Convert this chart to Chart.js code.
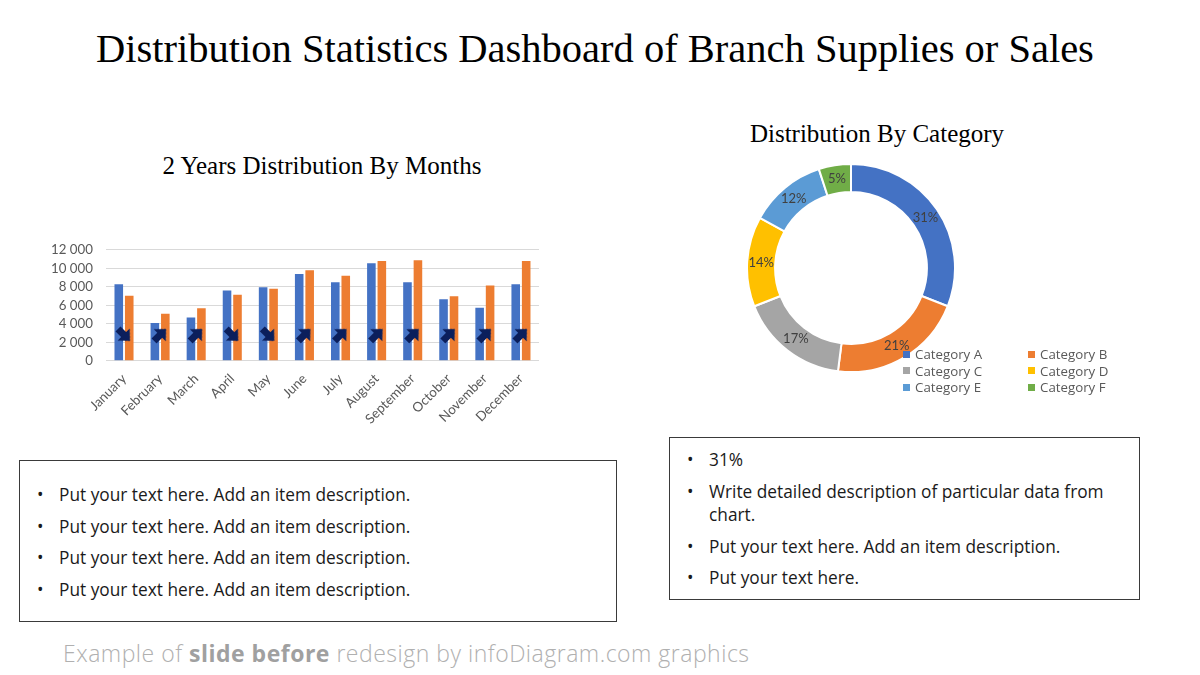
<!DOCTYPE html>
<html>
<head>
<meta charset="utf-8">
<script src="https://cdn.jsdelivr.net/npm/chart.js@4/dist/chart.umd.min.js"></script>
<style>
  html, body { margin: 0; padding: 0; background: #fff; }
  body { width: 1200px; height: 675px; position: relative; overflow: hidden; font-family: "Open Sans", sans-serif; }
  .title { position: absolute; left: 0; width: 1190px; top: 25px; text-align: center; font-family: "Liberation Serif", serif; font-size: 40.5px; color: #000; }
  .sub { position: absolute; font-family: "Liberation Serif", serif; font-size: 25px; color: #000; text-align: center; white-space: nowrap; }
  .box { position: absolute; border: 1px solid #3a3a3a; box-sizing: border-box; color: #1a1a1a; font-size: 17.3px; }
  .box ul { margin: 0; padding: 0; list-style: none; }
  .box li { position: relative; padding-left: 39px; line-height: 23px; }
  .box li::before { content: "•"; position: absolute; left: 17px; }
  .legend { position: absolute; left: 903px; top: 346px; display: grid; grid-template-columns: 125px 90px; row-gap: 0; font-size: 13.3px; color: #595959; font-family: "Open Sans", sans-serif; }
  .legend span { display: flex; align-items: center; height: 16.5px; white-space: nowrap; }
  .legend i { display: inline-block; width: 7px; height: 7px; margin-right: 5px; }
  .footer { position: absolute; left: 63px; top: 637px; font-size: 23px; letter-spacing: 0.5px; color: #b0b0b0; font-weight: 300; white-space: nowrap; }
  .footer b { font-weight: 700; color: #a0a0a0; }
</style>
</head>
<body>
<div class="title">Distribution Statistics Dashboard of Branch Supplies or Sales</div>
<div class="sub" style="left:122px; width:400px; top:152px;">2 Years Distribution By Months</div>
<div class="sub" style="left:677px; width:400px; top:120px;">Distribution By Category</div>

<div style="position:absolute; left:38px; top:229px; width:507px; height:200px;"><canvas id="barChart"></canvas></div>
<div style="position:absolute; left:746px; top:163px; width:210px; height:210px;"><canvas id="donutChart"></canvas></div>
<div class="legend" id="legend"></div>

<div class="box" style="left:19px; top:460px; width:598px; height:162px; padding-top:22px;">
  <ul>
    <li style="margin-bottom:8.5px">Put your text here. Add an item description.</li>
    <li style="margin-bottom:8.5px">Put your text here. Add an item description.</li>
    <li style="margin-bottom:8.5px">Put your text here. Add an item description.</li>
    <li>Put your text here. Add an item description.</li>
  </ul>
</div>
<div class="box" style="left:669px; top:437px; width:471px; height:163px; padding-top:10px; padding-right:20px;">
  <ul>
    <li style="margin-bottom:9px">31%</li>
    <li style="margin-bottom:9px">Write detailed description of particular data from chart.</li>
    <li style="margin-bottom:8px">Put your text here. Add an item description.</li>
    <li>Put your text here.</li>
  </ul>
</div>
<div class="footer">Example of <b>slide before</b> redesign by infoDiagram.com graphics</div>

<script>
const months = ['January', 'February', 'March', 'April', 'May', 'June', 'July', 'August', 'September', 'October', 'November', 'December'];
const yearOne = [8300, 4100, 4700, 7600, 7950, 9400, 8500, 10550, 8500, 6650, 5750, 8300];
const yearTwo = [7050, 5100, 5700, 7150, 7800, 9800, 9200, 10800, 10900, 7000, 8150, 10800];
const trendLevel = [2800, 2800, 2800, 2800, 2800, 2800, 2800, 2800, 2800, 2800, 2800, 2800];
const yTicks = [0, 2000, 4000, 6000, 8000, 10000, 12000];

const categories = ['Category A', 'Category B', 'Category C', 'Category D', 'Category E', 'Category F'];
const shares = [31, 21, 17, 14, 12, 5];
const categoryColors = ['#4472C4', '#ED7D31', '#A5A5A5', '#FFC000', '#5B9BD5', '#70AD47'];

const axisGrey = '#595959';
const labelFont = { family: 'Lato, "Open Sans", sans-serif', size: 13.3 };

// arrow icon used as point style, pointing right, rotated per month
function makeArrow() {
  const c = document.createElement('canvas');
  c.width = 19; c.height = 19;
  const g = c.getContext('2d');
  g.fillStyle = '#0b1f5c';
  g.beginPath();
  g.moveTo(1, 6); g.lineTo(9, 6); g.lineTo(9, 1); g.lineTo(18, 9.5);
  g.lineTo(9, 18); g.lineTo(9, 13); g.lineTo(1, 13);
  g.closePath();
  g.fill();
  return c;
}
const arrowIcon = makeArrow();

new Chart(document.getElementById('barChart'), {
  type: 'bar',
  data: {
    labels: months,
    datasets: [
      {
        type: 'line',
        data: trendLevel,
        showLine: false,
        pointStyle: arrowIcon,
        rotation: (ctx) => yearTwo[ctx.dataIndex] >= yearOne[ctx.dataIndex] ? -45 : 45,
        order: 0
      },
      { data: yearOne, backgroundColor: '#4472C4', barPercentage: 0.82, categoryPercentage: 0.58, order: 1 },
      { data: yearTwo, backgroundColor: '#ED7D31', barPercentage: 0.82, categoryPercentage: 0.58, order: 1 }
    ]
  },
  options: {
    responsive: true,
    maintainAspectRatio: false,
    animation: false,
    layout: { padding: { left: 0, right: 6, top: 9, bottom: 0 } },
    plugins: { legend: { display: false }, tooltip: { enabled: false } },
    scales: {
      x: {
        grid: { display: false },
        border: { display: false },
        ticks: { color: axisGrey, font: labelFont, maxRotation: 45, minRotation: 45, padding: 2 }
      },
      y: {
        min: 0,
        max: 12000,
        afterBuildTicks: (axis) => { axis.ticks = yTicks.map((v) => ({ value: v })); },
        grid: { color: '#d9d9d9', drawTicks: false },
        border: { display: false },
        ticks: {
          color: axisGrey,
          font: labelFont,
          padding: 13,
          autoSkip: false,
          callback: (v) => String(v).replace(/\B(?=(\d{3})+(?!\d))/g, ' ')
        }
      }
    }
  }
});

const sliceLabels = {
  id: 'sliceLabels',
  afterDatasetsDraw(chart) {
    const { ctx } = chart;
    const meta = chart.getDatasetMeta(0);
    ctx.save();
    ctx.font = '13px Lato, "Open Sans", sans-serif';
    ctx.fillStyle = '#404040';
    ctx.textAlign = 'center';
    ctx.textBaseline = 'middle';
    meta.data.forEach((arc, i) => {
      const p = arc.getCenterPoint();
      ctx.fillText(shares[i] + '%', p.x, p.y);
    });
    ctx.restore();
  }
};

new Chart(document.getElementById('donutChart'), {
  type: 'doughnut',
  data: {
    labels: categories,
    datasets: [{ data: shares, backgroundColor: categoryColors, borderColor: '#fff', borderWidth: 2 }]
  },
  options: {
    responsive: true,
    maintainAspectRatio: false,
    animation: false,
    cutout: '73%',
    layout: { padding: 0 },
    plugins: { legend: { display: false }, tooltip: { enabled: false } }
  },
  plugins: [sliceLabels]
});

const legend = document.getElementById('legend');
categories.forEach((name, i) => {
  const item = document.createElement('span');
  item.innerHTML = `<i style="background:${categoryColors[i]}"></i>${name}`;
  legend.appendChild(item);
});
</script>
</body>
</html>
